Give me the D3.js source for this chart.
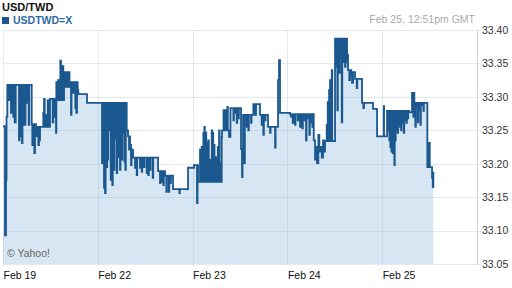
<!DOCTYPE html>
<html>
<head>
<meta charset="utf-8">
<script src="https://cdn.jsdelivr.net/npm/d3@7"></script>
<style>
body { margin: 0; background: #fff; }
svg { display: block; font-family: 'Liberation Sans', Arial, sans-serif; }
</style>
</head>
<body>
<div id="chart"></div>
<script>
// trading-hour axis: Feb 19 = 0h, Feb 22 = 24h, ... (weekend skipped)
const dayTicks = [0, 24, 48, 72, 96];
const dayLabels = ['Feb 19', 'Feb 22', 'Feb 23', 'Feb 24', 'Feb 25'];
const rateTicks = [33.05, 33.10, 33.15, 33.20, 33.25, 33.30, 33.35, 33.40];

// [hour, USDTWD]
const quotes = [
	[0, 33.256], [0.51, 33.093], [0.76, 33.176], [0.89, 33.270], [1.09, 33.318], [1.39, 33.295], [1.70, 33.318],
	[2.03, 33.276], [2.35, 33.318], [2.61, 33.270], [2.79, 33.318], [2.96, 33.262], [3.22, 33.318], [4.05, 33.235],
	[4.18, 33.318], [4.48, 33.241], [4.61, 33.318], [4.81, 33.231], [4.94, 33.318], [5.14, 33.258], [5.32, 33.318],
	[5.57, 33.258], [5.70, 33.318], [6.15, 33.291], [6.28, 33.318], [6.51, 33.258], [6.63, 33.318], [7.27, 33.259],
	[7.42, 33.228], [7.60, 33.259], [7.67, 33.235], [7.85, 33.259], [7.93, 33.216], [8.10, 33.259], [8.36, 33.241],
	[8.53, 33.255], [8.94, 33.228], [9.12, 33.255], [9.19, 33.235], [9.37, 33.255], [10.20, 33.276], [10.38, 33.297],
	[10.56, 33.255], [10.89, 33.273], [11.06, 33.255], [11.32, 33.295], [11.47, 33.255], [11.90, 33.297], [12.58, 33.262],
	[12.74, 33.297], [12.91, 33.270], [13.09, 33.297], [13.42, 33.246], [13.50, 33.322], [13.75, 33.295], [13.93, 33.325],
	[14.18, 33.295], [14.26, 33.325], [14.51, 33.354], [14.69, 33.295], [14.94, 33.346], [15.27, 33.295], [15.45, 33.337],
	[15.77, 33.315], [16.13, 33.337], [16.46, 33.315], [16.79, 33.337], [16.84, 33.322], [17.22, 33.273], [17.34, 33.322],
	[17.72, 33.306], [17.85, 33.322], [18.31, 33.283], [18.56, 33.276], [18.74, 33.322], [18.91, 33.310], [19.07, 33.304],
	[21.27, 33.291], [25.07, 33.201], [25.19, 33.291], [25.57, 33.164], [25.70, 33.291], [25.83, 33.156], [25.98, 33.291],
	[26.26, 33.195], [26.38, 33.291], [26.51, 33.206], [26.64, 33.291], [26.84, 33.250], [26.97, 33.291], [27.27, 33.176],
	[27.40, 33.291], [27.67, 33.168], [27.80, 33.291], [28.11, 33.191], [28.23, 33.291], [28.54, 33.238], [28.66, 33.291],
	[28.79, 33.186], [28.92, 33.291], [29.04, 33.258], [29.17, 33.291], [29.37, 33.210], [29.50, 33.291], [29.62, 33.191],
	[29.75, 33.291], [30.05, 33.206], [30.18, 33.291], [30.38, 33.246], [30.51, 33.291], [30.71, 33.203], [30.84, 33.291],
	[30.97, 33.191], [31.09, 33.291], [31.32, 33.250], [31.65, 33.241], [31.91, 33.221], [32.03, 33.241], [32.16, 33.228],
	[32.41, 33.198], [32.54, 33.221], [32.92, 33.209], [33.42, 33.194], [33.55, 33.209], [33.85, 33.183], [33.98, 33.209],
	[34.69, 33.194], [34.81, 33.209], [35.12, 33.188], [35.25, 33.209], [35.70, 33.195], [35.83, 33.209], [36.38, 33.186],
	[36.51, 33.209], [36.79, 33.183], [36.92, 33.209], [37.22, 33.191], [37.35, 33.209], [37.90, 33.179], [38.03, 33.209],
	[39.25, 33.189], [39.75, 33.171], [39.88, 33.189], [40.18, 33.173], [40.31, 33.189], [40.59, 33.168], [40.71, 33.189],
	[41.02, 33.182], [41.35, 33.158], [41.47, 33.182], [41.96, 33.158], [42.08, 33.182], [42.36, 33.171], [42.49, 33.182],
	[43.04, 33.162], [44.64, 33.156], [44.77, 33.162], [46.84, 33.194], [48.36, 33.198], [49.12, 33.141], [49.25, 33.198],
	[49.37, 33.173], [49.88, 33.221], [50.01, 33.173], [50.31, 33.225], [50.44, 33.173], [50.72, 33.246], [50.84, 33.173],
	[50.97, 33.255], [51.10, 33.173], [51.32, 33.247], [51.45, 33.173], [51.65, 33.231], [51.78, 33.173], [51.98, 33.235],
	[52.11, 33.173], [52.41, 33.206], [52.54, 33.173], [52.84, 33.250], [52.97, 33.173], [53.10, 33.246], [53.22, 33.173],
	[53.43, 33.228], [53.55, 33.173], [53.86, 33.210], [53.99, 33.173], [54.37, 33.225], [54.49, 33.173], [54.70, 33.250],
	[54.83, 33.173], [55.02, 33.201], [55.15, 33.173], [55.37, 33.240], [55.45, 33.250], [55.83, 33.280], [55.95, 33.250],
	[56.39, 33.280], [56.52, 33.250], [56.80, 33.285], [56.93, 33.250], [57.21, 33.240], [57.58, 33.283], [58.33, 33.265],
	[58.46, 33.283], [58.75, 33.276], [58.88, 33.283], [59.17, 33.261], [59.30, 33.283], [59.58, 33.268], [59.71, 33.283],
	[60.26, 33.222], [60.51, 33.180], [60.64, 33.222], [60.77, 33.273], [61.10, 33.201], [61.23, 33.273], [61.70, 33.255],
	[61.83, 33.273], [62.11, 33.250], [62.24, 33.273], [62.80, 33.261], [62.92, 33.273], [63.38, 33.289], [63.64, 33.273],
	[64.06, 33.289], [65.07, 33.273], [65.50, 33.258], [65.63, 33.273], [65.91, 33.243], [66.04, 33.273], [66.34, 33.265],
	[66.47, 33.273], [67.10, 33.255], [67.61, 33.246], [67.74, 33.255], [68.88, 33.224], [69.01, 33.255], [69.63, 33.325],
	[69.88, 33.355], [70.13, 33.276], [72.67, 33.274], [72.92, 33.270], [73.05, 33.274], [73.35, 33.261], [73.48, 33.274],
	[73.93, 33.258], [74.06, 33.274], [74.62, 33.265], [74.74, 33.274], [75.20, 33.255], [75.33, 33.274], [75.78, 33.253],
	[75.91, 33.274], [76.29, 33.265], [76.42, 33.274], [76.72, 33.235], [76.85, 33.274], [77.15, 33.268], [77.28, 33.274],
	[77.56, 33.243], [77.68, 33.274], [77.99, 33.262], [78.11, 33.274], [78.32, 33.255], [78.45, 33.274], [78.67, 33.235],
	[79.00, 33.206], [79.25, 33.225], [79.50, 33.201], [79.83, 33.243], [80.09, 33.218], [80.34, 33.225], [80.70, 33.209],
	[81.02, 33.235], [81.27, 33.218], [81.52, 33.234], [81.95, 33.258], [82.08, 33.234], [82.21, 33.292], [82.34, 33.234],
	[82.55, 33.310], [82.68, 33.234], [82.80, 33.325], [82.93, 33.234], [83.23, 33.340], [83.36, 33.234], [84.06, 33.387],
	[84.32, 33.345], [84.42, 33.387], [84.65, 33.280], [84.77, 33.387], [84.90, 33.366], [85.03, 33.387], [85.15, 33.336],
	[85.28, 33.387], [85.50, 33.360], [85.63, 33.387], [85.76, 33.262], [85.89, 33.387], [86.01, 33.352], [86.14, 33.387],
	[86.34, 33.370], [86.47, 33.387], [86.59, 33.345], [86.72, 33.387], [86.85, 33.352], [86.97, 33.387], [87.10, 33.363],
	[87.35, 33.340], [87.68, 33.325], [87.86, 33.340], [88.19, 33.333], [88.37, 33.321], [88.62, 33.337], [89.13, 33.327],
	[89.56, 33.313], [89.69, 33.327], [90.90, 33.291], [91.23, 33.283], [91.40, 33.291], [93.68, 33.282], [94.70, 33.241],
	[96.39, 33.286], [96.47, 33.241], [97.23, 33.279], [97.56, 33.250], [97.66, 33.279], [97.81, 33.235], [97.91, 33.279],
	[98.06, 33.225], [98.16, 33.279], [98.32, 33.218], [98.42, 33.279], [98.67, 33.216], [98.77, 33.279], [98.92, 33.231],
	[99.00, 33.279], [99.07, 33.198], [99.18, 33.279], [99.33, 33.235], [99.43, 33.279], [99.58, 33.250], [99.68, 33.279],
	[99.94, 33.246], [100.04, 33.279], [100.27, 33.255], [100.39, 33.279], [100.52, 33.270], [100.65, 33.279], [100.77, 33.250],
	[100.90, 33.279], [101.10, 33.261], [101.23, 33.279], [101.46, 33.246], [101.58, 33.279], [101.79, 33.265], [101.91, 33.279],
	[102.12, 33.261], [102.25, 33.279], [102.47, 33.268], [102.60, 33.279], [102.80, 33.277], [103.55, 33.306], [103.88, 33.270],
	[104.01, 33.306], [104.14, 33.291], [104.39, 33.255], [104.52, 33.291], [104.65, 33.285], [104.78, 33.291], [105.00, 33.262],
	[105.13, 33.291], [105.33, 33.280], [105.46, 33.291], [105.66, 33.258], [105.78, 33.291], [106.01, 33.288], [106.14, 33.291],
	[106.42, 33.279], [106.55, 33.291], [107.43, 33.195], [107.68, 33.231], [108.04, 33.195], [108.62, 33.179], [108.80, 33.165],
	[108.95, 33.188]
];

const width = 512;
const height = 288;
const plot = { left: 3, right: 477, top: 30, bottom: 264 };

const svg = d3.select('#chart').append('svg')
	.attr('width', width)
	.attr('height', height);

const x = d3.scaleLinear().domain([0, 120]).range([plot.left, plot.right]);
const y = d3.scaleLinear().domain([33.05, 33.40]).range([plot.bottom, plot.top]);

// fill under the step line
const area = d3.area()
	.curve(d3.curveStepAfter)
	.x(d => x(d[0]))
	.y0(plot.bottom)
	.y1(d => y(d[1]));

svg.append('path')
	.datum(quotes)
	.attr('fill', '#d6e6f2')
	.attr('d', area);

// grid on top of the fill, semi transparent so it darkens over it
const grid = svg.append('g').attr('stroke', 'rgba(150,170,200,0.25)').attr('stroke-width', 1);
grid.selectAll('.hgrid')
	.data(rateTicks)
	.enter().append('line')
	.attr('x1', plot.left)
	.attr('x2', plot.right + 4)
	.attr('y1', d => Math.round(y(d)) + 0.5)
	.attr('y2', d => Math.round(y(d)) + 0.5);
grid.selectAll('.vgrid')
	.data(dayTicks)
	.enter().append('line')
	.attr('x1', d => Math.round(x(d)) + 0.5)
	.attr('x2', d => Math.round(x(d)) + 0.5)
	.attr('y1', plot.top)
	.attr('y2', plot.bottom + 1);

// right frame line
svg.append('line')
	.attr('x1', plot.right + 0.5).attr('x2', plot.right + 0.5)
	.attr('y1', plot.top).attr('y2', plot.bottom + 1)
	.attr('stroke', '#d0d4da');

const line = d3.line()
	.curve(d3.curveStepAfter)
	.x(d => x(d[0]))
	.y(d => y(d[1]));

svg.append('path')
	.datum(quotes)
	.attr('fill', 'none')
	.attr('stroke', '#1c5890')
	.attr('stroke-width', 1.8)
	.attr('d', line);

// axes
const yAxis = d3.axisRight(y).tickValues(rateTicks).tickFormat(d3.format('.2f')).tickSize(0).tickPadding(5);
const yg = svg.append('g')
	.attr('transform', 'translate(' + (plot.right) + ',0)')
	.call(yAxis);
yg.select('.domain').remove();
yg.selectAll('text')
	.attr('font-family', "'Liberation Sans', Arial, sans-serif")
	.attr('font-size', 10.5)
	.attr('fill', '#333');

const xAxis = d3.axisBottom(x).tickValues(dayTicks).tickFormat((d, i) => dayLabels[i]).tickSize(0).tickPadding(8);
const xg = svg.append('g')
	.attr('transform', 'translate(0,' + plot.bottom + ')')
	.call(xAxis);
xg.select('.domain').remove();
xg.selectAll('text')
	.attr('text-anchor', 'start')
	.attr('font-family', "'Liberation Sans', Arial, sans-serif")
	.attr('font-size', 10.5)
	.attr('fill', '#111');

// header
svg.append('text')
	.attr('x', 2).attr('y', 11)
	.attr('font-size', 11).attr('font-weight', 'bold').attr('fill', '#111')
	.text('USD/TWD');

svg.append('rect')
	.attr('x', 2).attr('y', 17).attr('width', 7).attr('height', 7)
	.attr('fill', '#1c5890');
svg.append('text')
	.attr('x', 13).attr('y', 24)
	.attr('font-size', 10.5).attr('font-weight', 'bold').attr('fill', '#2a6aa6')
	.text('USDTWD=X');

svg.append('text')
	.attr('x', 475).attr('y', 23)
	.attr('text-anchor', 'end')
	.attr('font-size', 10.5).attr('fill', '#aaa')
	.text('Feb 25, 12:51pm GMT');

svg.append('text')
	.attr('x', 7).attr('y', 257)
	.attr('font-size', 10.5).attr('fill', '#666')
	.text('\u00a9 Yahoo!');
</script>
</body>
</html>
